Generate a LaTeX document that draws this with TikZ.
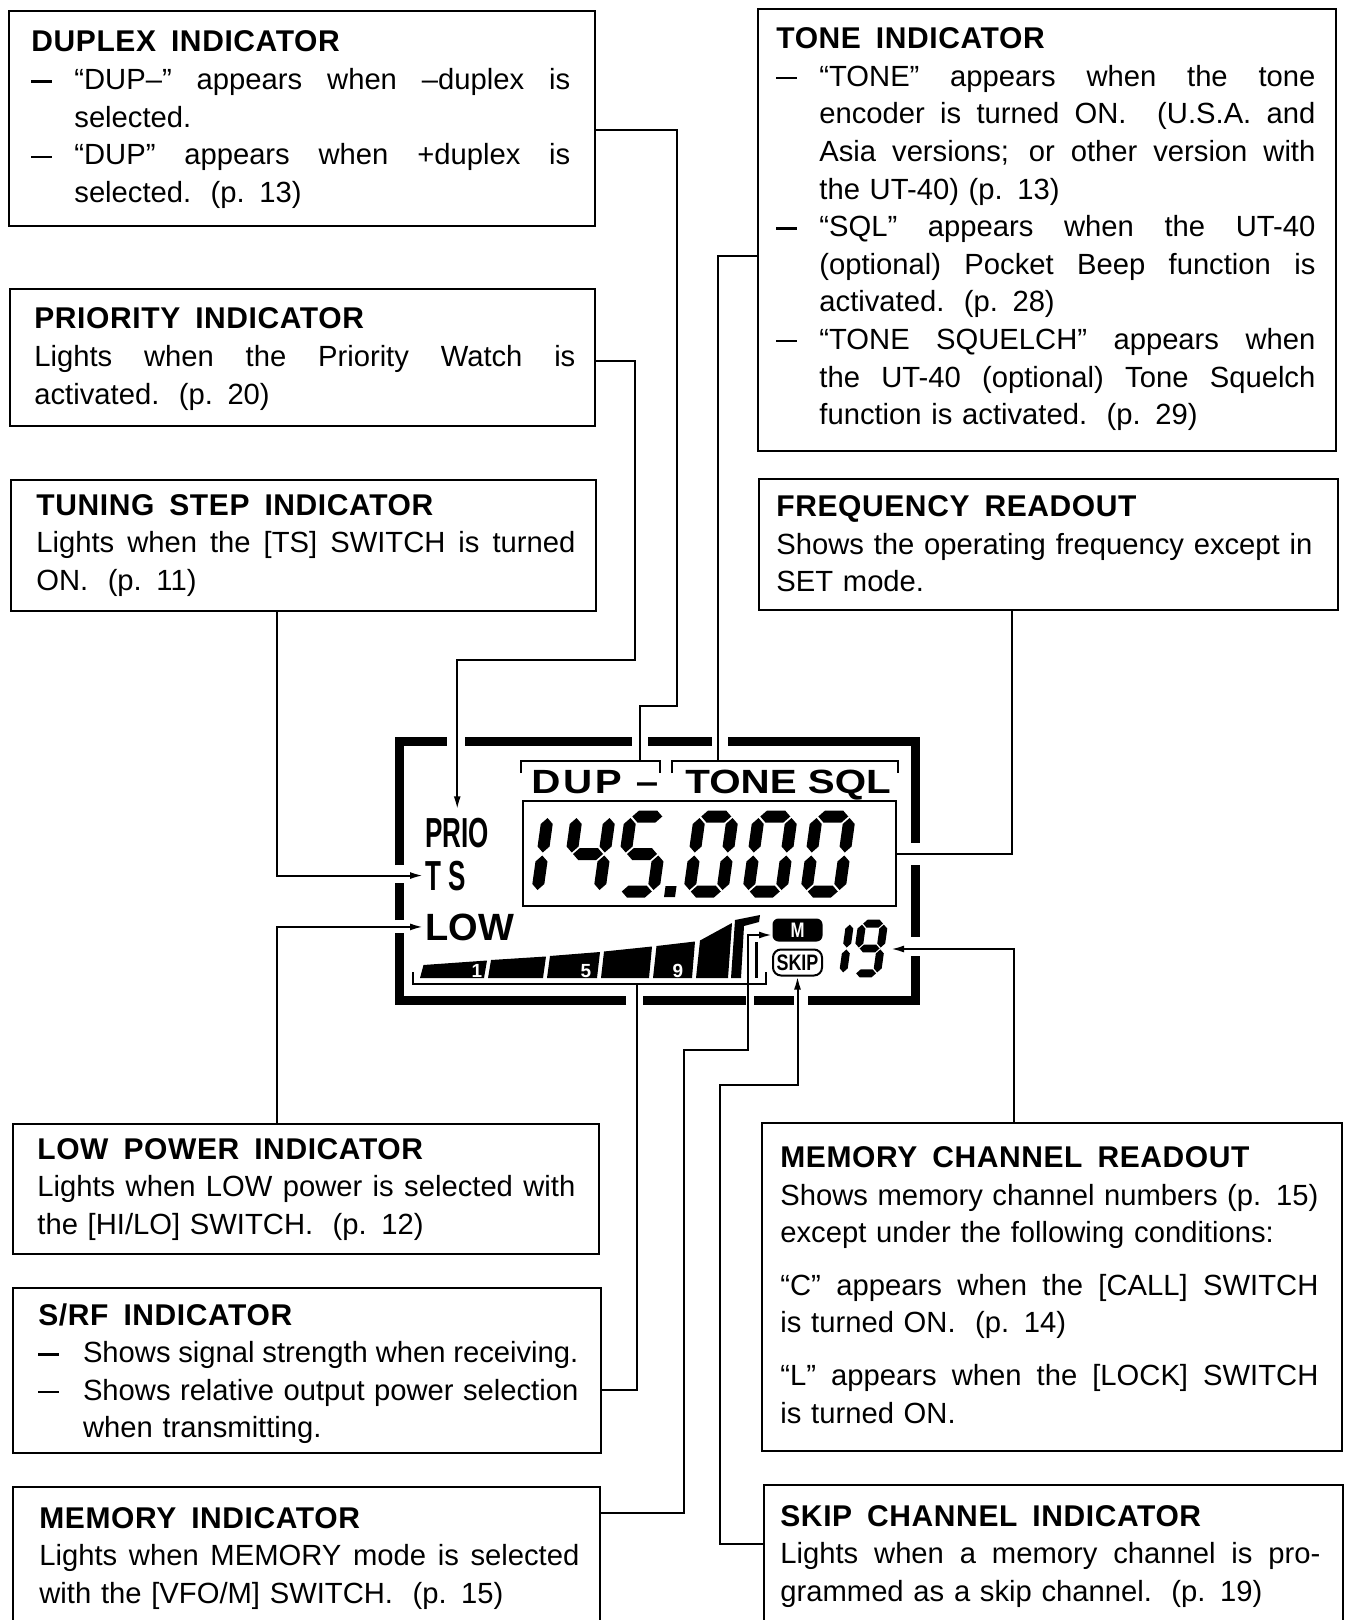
\documentclass[tikz,border=0pt]{standalone}
\usepackage{fontspec}
\setmainfont{Liberation Sans}
\newfontfamily\headfont[LetterSpace=2]{Liberation Sans}
\newfontfamily\priofont[FakeStretch=0.62]{Liberation Sans}
\newfontfamily\lcdfont[FakeStretch=1.2]{Liberation Sans}
\newfontfamily\dupfont[FakeStretch=1.2,LetterSpace=8]{Liberation Sans}
\newfontfamily\skipfont[FakeStretch=0.8]{Liberation Sans}
\usetikzlibrary{arrows.meta}
\newlength\dind
\newlength\tw
\newcommand\hw{\hspace{0.5em}}
\newcommand\dsh{\rule[0.24em]{0.72em}{1.1pt}}
\newcommand\fs{\spaceskip=0pt\xspaceskip=0pt\relax}
\newcommand\jl[1]{\leavevmode\hbox to \tw{\fs #1}}
\newcommand\dl[1]{\leavevmode\hbox to \tw{\fs\hbox to \dind{\dsh\hfil}#1}}
\newcommand\cjl[1]{\leavevmode\hbox to \tw{\fs\hskip\dind #1}}
\newcommand\cl[1]{\leavevmode\hbox{\hskip\dind #1}}
\newcommand\hd[1]{{\headfont\bfseries\fontsize{15}{18.8}\selectfont #1}}
% seven segment pieces (local units: W=44, H=86)
\def\SEGa{\fill (7,80.5) -- (13,86.5) -- (31,86.5) -- (37,80.5) -- (31,74.5) -- (13,74.5) -- cycle;}
\def\SEGg{\fill (7,43) -- (13,49) -- (31,49) -- (37,43) -- (31,37) -- (13,37) -- cycle;}
\def\SEGd{\fill (7,5.5) -- (13,11.5) -- (31,11.5) -- (37,5.5) -- (31,-0.5) -- (13,-0.5) -- cycle;}
\def\SEGf{\fill (5.5,44.5) -- (11.5,50.5) -- (11.5,73) -- (5.5,79) -- (-0.5,73) -- (-0.5,50.5) -- cycle;}
\def\SEGb{\fill (38.5,44.5) -- (44.5,50.5) -- (44.5,73) -- (38.5,79) -- (32.5,73) -- (32.5,50.5) -- cycle;}
\def\SEGe{\fill (5.5,7) -- (11.5,13) -- (11.5,35.5) -- (5.5,41.5) -- (-0.5,35.5) -- (-0.5,13) -- cycle;}
\def\SEGc{\fill (38.5,7) -- (44.5,13) -- (44.5,35.5) -- (38.5,41.5) -- (32.5,35.5) -- (32.5,13) -- cycle;}
\newcommand\sevenseg[4]{\begin{scope}[shift={(#1,#2)},x={(#3*0.5pt,0pt)},y={(#3*0.07pt,#3*0.5pt)}]
\foreach \q in {#4}{\csname SEG\q\endcsname}\end{scope}}
\tikzset{
  box/.style={draw, line width=1.2pt, inner sep=0pt, anchor=north west},
  txt/.style={inner sep=0pt, anchor=base west, align=left, font=\fontsize{14.6}{18.8}\selectfont},
  con/.style={line width=1pt},
  arr/.style={con, -{Latex[length=6.5pt,width=3.5pt]}},
  lcdframe/.style={line width=4.5pt, line join=miter, line cap=butt},
  thinl/.style={line width=1pt},
  lcdlbl/.style={anchor=base west, inner sep=0pt}
}
\begin{document}
\begin{tikzpicture}[x=0.5pt,y=-0.5pt]
\fill[white] (0,0) rectangle (1347,1620);
\useasboundingbox (0,0) rectangle (1347,1620);

% ---------- boxes ----------
\node[box, minimum width=293pt, minimum height=107.5pt] (dup) at (8,10) {};
\node[box, minimum width=292.5pt, minimum height=68.5pt] (prio) at (9,288) {};
\node[box, minimum width=292.5pt, minimum height=65.5pt] (ts) at (10,479) {};
\node[box, minimum width=293pt, minimum height=65pt] (low) at (12,1123) {};
\node[box, minimum width=294pt, minimum height=82.5pt] (srf) at (12,1287) {};
\node[box, minimum width=293.5pt, minimum height=75pt] (mem) at (12,1486) {};
\node[box, minimum width=289pt, minimum height=221pt] (tone) at (757,8) {};
\node[box, minimum width=289.5pt, minimum height=65.5pt] (freq) at (758,478) {};
\node[box, minimum width=290pt, minimum height=164pt] (mc) at (761,1122) {};
\node[box, minimum width=289.5pt, minimum height=75pt] (skip) at (763,1484) {};

% ---------- texts ----------
\node[txt, text width=269.5pt] (duptx) at (31,52) {\setlength\tw{269.5pt}\setlength\dind{21.5pt}\hd{DUPLEX\hw INDICATOR}\\
\dl{“DUP–” appears when –duplex is}\\
\cl{selected.}\\
\dl{“DUP” appears when +duplex is}\\
\cl{selected.\ \ (p. 13)}};

\node[txt, text width=270.5pt] (priotx) at (34,329) {\setlength\tw{270.5pt}\hd{PRIORITY\hw INDICATOR}\\
\jl{Lights when the Priority Watch is}\\
activated.\ \ (p. 20)};

\node[txt, text width=269.5pt] (tstx) at (36,515) {\setlength\tw{269.5pt}\hd{TUNING\hw STEP\hw INDICATOR}\\
\jl{Lights when the [TS] SWITCH is turned}\\
ON.\ \ (p. 11)};

\node[txt, text width=269pt] (lowtx) at (37,1159) {\setlength\tw{269pt}\hd{LOW\hw POWER\hw INDICATOR}\\
\jl{Lights when LOW power is selected with}\\
the [HI/LO] SWITCH.\ \ (p. 12)};

\node[txt, text width=270pt] (srftx) at (38,1325) {\setlength\tw{270pt}\setlength\dind{22.3pt}\hd{S/RF\hw INDICATOR}\\
\dl{Shows signal strength when receiving.}\\
\dl{Shows relative output power selection}\\
\cl{when transmitting.}};

\node[txt, text width=270pt] (memtx) at (39,1528) {\setlength\tw{270pt}\hd{MEMORY\hw INDICATOR}\\
\jl{Lights when MEMORY mode is selected}\\
with the [VFO/M] SWITCH.\ \ (p. 15)};

\node[txt, text width=269.5pt] (tonetx) at (776,48.7) {\setlength\tw{269.5pt}\setlength\dind{21.5pt}\hd{TONE\hw INDICATOR}\\
\dl{“TONE” appears when the tone}\\
\cjl{encoder is turned ON.\ \ (U.S.A. and}\\
\cjl{Asia versions; or other version with}\\
\cl{the UT-40) (p. 13)}\\
\dl{“SQL” appears when the UT-40}\\
\cjl{(optional) Pocket Beep function is}\\
\cl{activated.\ \ (p. 28)}\\
\dl{“TONE SQUELCH” appears when}\\
\cjl{the UT-40 (optional) Tone Squelch}\\
\cl{function is activated.\ \ (p. 29)}};

\node[txt, text width=268pt] (freqtx) at (776,516.7) {\setlength\tw{268pt}\hd{FREQUENCY\hw READOUT}\\
\jl{Shows the operating frequency except in}\\
SET mode.};

\node[txt, text width=269pt] (mctx) at (780,1167.5) {\setlength\tw{269pt}\hd{MEMORY\hw CHANNEL\hw READOUT}\\
\jl{Shows memory channel numbers (p. 15)}\\
except under the following conditions:\\[7.5pt]
\jl{“C” appears when the [CALL] SWITCH}\\
is turned ON.\ \ (p. 14)\\[7.5pt]
\jl{“L” appears when the [LOCK] SWITCH}\\
is turned ON.};

\node[txt, text width=270pt] (skiptx) at (780,1526) {\setlength\tw{270pt}\hd{SKIP\hw CHANNEL\hw INDICATOR}\\
\jl{Lights when a memory channel is pro-}\\
grammed as a skip channel.\ \ (p. 19)};

% ---------- LCD ----------
\draw[lcdframe] (399,865) -- (399,741.5) -- (447,741.5);
\draw[lcdframe] (465,741.5) -- (632,741.5);
\draw[lcdframe] (648,741.5) -- (712,741.5);
\draw[lcdframe] (728,741.5) -- (915.5,741.5) -- (915.5,843);
\draw[lcdframe] (915.5,865) -- (915.5,937);
\draw[lcdframe] (915.5,956) -- (915.5,1000.5) -- (808,1000.5);
\draw[lcdframe] (794,1000.5) -- (754,1000.5);
\draw[lcdframe] (746,1000.5) -- (643,1000.5);
\draw[lcdframe] (626,1000.5) -- (399,1000.5) -- (399,933);
\draw[lcdframe] (399,920) -- (399,883);

% brackets
\draw[thinl] (521,773) -- (521,761) -- (660,761) -- (660,773);
\coordinate (dupbr) at (640,761);
\draw[thinl] (672,773) -- (672,761) -- (898,761) -- (898,773);
\coordinate (tonebr) at (718,761);
\draw[thinl] (413,972) -- (413,984) -- (766,984) -- (766,972);
\coordinate (srfbr) at (637,984);

% labels
\node[lcdlbl, font=\dupfont\bfseries\fontsize{16.8}{17}\selectfont] (dupL) at (531,793) {DUP –};
\node[lcdlbl, font=\lcdfont\bfseries\fontsize{16.8}{17}\selectfont] (toneL) at (685,793) {TONE SQL};
\node[lcdlbl, font=\priofont\bfseries\fontsize{21}{21}\selectfont] (prioL) at (425,847) {PRIO};
\node[lcdlbl, font=\priofont\bfseries\fontsize{21}{21}\selectfont] (tsL) at (425,890) {T S};
\node[lcdlbl, font=\bfseries\fontsize{19}{19}\selectfont] (lowL) at (425,940) {LOW};

% frequency display
\node[draw, line width=1pt, inner sep=0pt, minimum width=186.5pt, minimum height=52.5pt, anchor=north west] (fdisp) at (522,800) {};
\sevenseg{498}{897}{1}{b,c}
\sevenseg{560}{897}{1}{f,g,b,c}
\sevenseg{614}{897}{1}{a,f,g,c,d}
\begin{scope}[shift={(664,897)},x={(0.5pt,0pt)},y={(0.07pt,0.5pt)}]
\fill (0,0) -- (11,0) -- (11,11) -- (0,11) -- cycle;
\end{scope}
\sevenseg{683}{897}{1}{a,b,c,d,e,f}
\sevenseg{742}{897}{1}{a,b,c,d,e,f}
\sevenseg{800}{897}{1}{a,b,c,d,e,f}

% channel number 19
\sevenseg{817}{977}{0.663}{b,c}
\sevenseg{851}{977}{0.663}{a,b,c,d,f,g}
\coordinate (ch19tip) at (891,949);

% bar graph
\fill (420,978) -- (423.5,965) -- (487,960.5) -- (484,978) -- cycle;
\fill (488,978) -- (491,960) -- (546,956.5) -- (543,978) -- cycle;
\fill (547,978) -- (550,956) -- (600,952) -- (597,978) -- cycle;
\fill (601,978) -- (604,951.5) -- (652,946.5) -- (649,978) -- cycle;
\fill (653,978) -- (656.5,946) -- (695,941.5) -- (692,978) -- cycle;
\fill (696,978) -- (700,940.5) -- (732,923) -- (728,978) -- cycle;
\fill (731,978) -- (735,920) -- (760,915) -- (759,922) -- (744,926) -- (741,978) -- cycle;
\draw[line width=1.5pt] (756,942) -- (756,978);
\node[text=white, inner sep=0pt, font=\bfseries\fontsize{9.5}{9.5}\selectfont] (b1) at (477,971) {1};
\node[text=white, inner sep=0pt, font=\bfseries\fontsize{9.5}{9.5}\selectfont] (b5) at (586,971) {5};
\node[text=white, inner sep=0pt, font=\bfseries\fontsize{9.5}{9.5}\selectfont] (b9) at (678,971) {9};

% M and SKIP
\node[fill=black, rounded corners=3pt, inner sep=0pt, minimum width=25pt, minimum height=11.5pt, text=white, font=\skipfont\bfseries\fontsize{10.5}{10.5}\selectfont] (mnode) at (797.5,930) {M};
\coordinate (mtip) at (772,935);
\node[draw, line width=1pt, rounded corners=4pt, inner sep=0pt, minimum width=24.5pt, minimum height=13pt, font=\skipfont\bfseries\fontsize{11.2}{11.2}\selectfont] (skipnode) at (797.5,962.5) {SKIP};

% ---------- connectors ----------
\draw[con] (dup.east |- 0,130) -| (677,706) -| (dupbr);
\draw[arr, shorten >=4pt] (prio.east |- 0,361) -| (635,660) -| (prioL.north);
\draw[con] (tone.west |- 0,256) -| (tonebr);
\draw[arr, shorten >=1pt] (ts.south -| 277,0) |- (tsL.west);
\draw[con] (freq.south -| 1012,0) |- (fdisp.east);
\draw[arr, shorten >=1pt] (low.north -| 277,0) |- (lowL.west);
\draw[con] (srf.east |- 0,1390) -| (srfbr);
\draw[arr] (mem.east |- 0,1513) -| (684,1050) -- (748,1050) |- (mtip);
\draw[arr] (skip.west |- 0,1544) -| (720,1085) -| (skipnode.south);
\draw[arr] (mc.north -| 1014,0) |- (ch19tip);
\end{tikzpicture}
\end{document}
